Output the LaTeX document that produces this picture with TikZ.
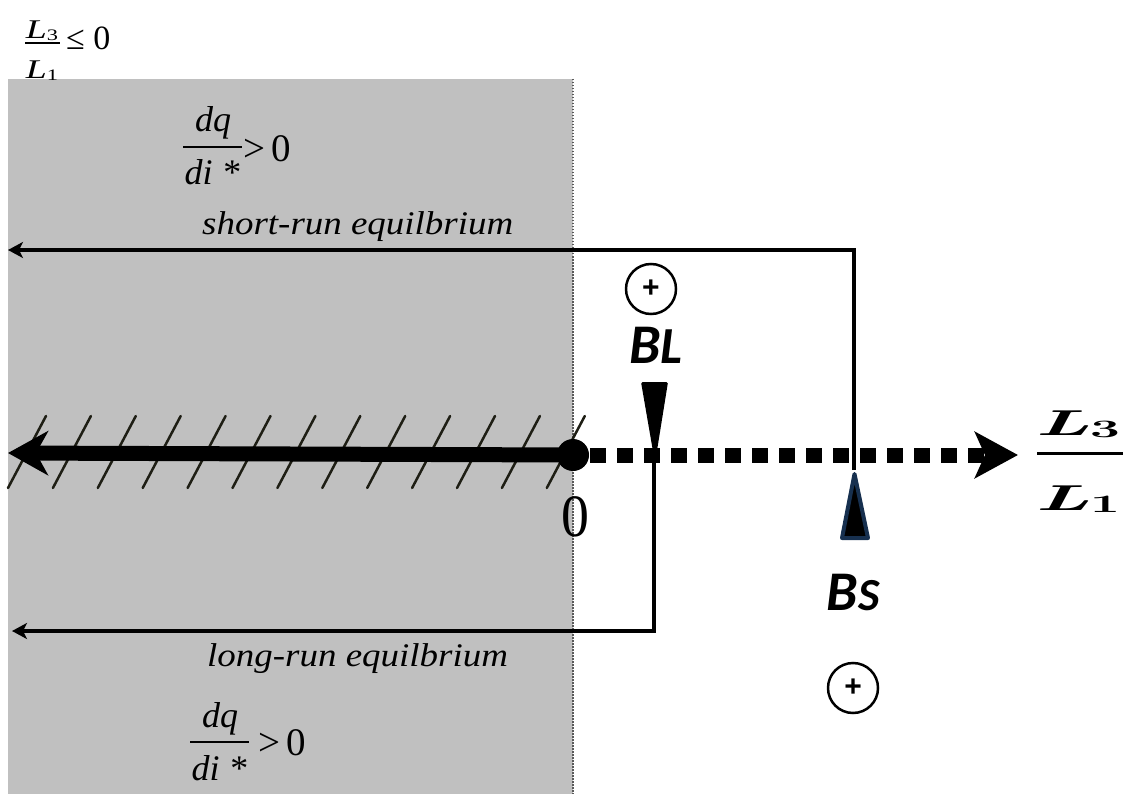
\documentclass[tikz,border=0pt]{standalone}
\usepackage{graphicx}
\usepackage{fontspec}
\setmainfont{Liberation Serif}
\newfontfamily\calibri{Carlito}
\newfontfamily\sansplus{Liberation Sans}
\newfontfamily\lmr{Latin Modern Roman}
\usetikzlibrary{arrows.meta}
\definecolor{greyfill}{HTML}{C0C0C0}
\definecolor{hatchc}{HTML}{1E1E14}
\definecolor{navy}{HTML}{17304F}
\definecolor{edgec}{HTML}{5A5A5A}
\tikzset{
  thinarrow/.style={line width=4.5pt,-{Stealth[length=15pt,width=16pt,inset=4pt]}},
  hatchline/.style={hatchc,line width=2.5pt,line cap=round},
  plusc/.style={circle,draw,line width=2.5pt,minimum size=50pt,inner sep=0pt,
    font=\sansplus\bfseries\fontsize{30}{30}\selectfont},
  lbl/.style={inner sep=0pt},
  dqfont/.style={lbl,font=\fontsize{36}{40}\selectfont\itshape},
  relfont/.style={lbl,font=\fontsize{39}{42}\selectfont},
  fracbar/.style={line width=1.8pt},
}
\begin{document}
\begin{tikzpicture}[x=1pt,y=-1pt]
\useasboundingbox (0,0) rectangle (1124,794);
% shaded half-plane
\fill[greyfill] (8,79) rectangle (573,794);
\draw[edgec,line width=2.5pt,dash pattern=on 1.5pt off 1.5pt] (573,79) -- (573,794);
% hatching
\foreach \i in {0,...,12} \draw[hatchline] ({8+44.9*\i},488) -- ++(38,-72);
% coordinates
\coordinate (O) at (573,455);
\coordinate (leftend) at (8,453);
\coordinate (dashstart) at (590,455);
\coordinate (rightend) at (1018,455);
\coordinate (srv) at (854,470);
\coordinate (srend) at (8,250);
\coordinate (blv) at (654,455);
\coordinate (lrend) at (12,631);
% thick axis
\draw[line width=15pt,-{Stealth[length=40pt,width=44pt,inset=12pt]}] (O) -- (leftend);
\draw[line width=15pt,dash pattern=on 16pt off 11pt,-{Stealth[length=43pt,width=46pt,inset=10pt]}] (dashstart) -- (rightend);
\fill (O) circle[radius=16pt];
% equilibrium paths
\draw[thinarrow] (srv) |- (srend);
\draw[thinarrow] (blv) |- (lrend);
% markers
\fill[rounded corners=1.5pt] (641,382) -- (668,382) -- (655,463) -- cycle;
\filldraw[fill=black,draw=navy,line width=4pt,line join=round] (854.5,474) -- (868,538) -- (842,538) -- cycle;
% circles
\node[plusc] (p1) at (651,289) {+};
\node[plusc] (p2) at (853,688) {+};
% B labels
\node[lbl,anchor=base] (bl) at (656,363) {\calibri\bfseries\itshape{\fontsize{56}{60}\selectfont B}{\fontsize{52}{56}\selectfont L}};
\node[lbl,anchor=base] (bs) at (853,610) {\calibri\bfseries\itshape{\fontsize{56}{60}\selectfont B}{\fontsize{46}{50}\selectfont S}};
% zero
\node[lbl] (zero) at (575,517) {\fontsize{60}{62}\selectfont\scalebox{0.93}[1]{0}};
% axis label
\node[lbl,anchor=base] (axnum) at (1078,435) {\lmr\bfseries\scalebox{2.15}[1]{{\fontsize{36}{40}\selectfont\itshape L}\raisebox{-0.2em}{\fontsize{25}{28}\selectfont 3}}};
\node[lbl,anchor=base] (axden) at (1078,510) {\lmr\bfseries\scalebox{2.15}[1]{{\fontsize{36}{40}\selectfont\itshape L}\raisebox{-0.2em}{\fontsize{25}{28}\selectfont 1}}};
\coordinate (axbl) at (1037,453);
\coordinate (axbr) at (1123,453);
\draw[line width=3pt] (axbl) -- (axbr);
% top-left label
\node[lbl,anchor=base] (tlnum) at (42,39) {\scalebox{1.4}[1]{{\fontsize{27}{28}\selectfont\itshape L}\raisebox{-0.2em}{\fontsize{16}{18}\selectfont 3}}};
\node[lbl,anchor=base] (tlden) at (42,79) {\scalebox{1.4}[1]{{\fontsize{27}{28}\selectfont\itshape L}\raisebox{-0.2em}{\fontsize{16}{18}\selectfont 1}}};
\coordinate (tlbl) at (25,43);
\coordinate (tlbr) at (60,43);
\draw[line width=1.5pt] (tlbl) -- (tlbr);
\node[lbl,anchor=base west,font=\fontsize{34}{36}\selectfont] (tlrel) at (66,50) {≤ 0};
% derivative labels (top)
\node[dqfont,anchor=base] (dqtn) at (213,132) {dq};
\node[dqfont,anchor=base] (dqtd) at (212,185) {di *};
\coordinate (dqtl) at (183,147);
\coordinate (dqtr) at (242,147);
\draw[fracbar] (dqtl) -- (dqtr);
\node[relfont,anchor=base west] (dqtrel) at (243,162) {>\,0};
% derivative labels (bottom)
\node[dqfont,anchor=base] (dqbn) at (220,727) {dq};
\node[dqfont,anchor=base] (dqbd) at (219,780) {di *};
\coordinate (dqbl) at (190,742);
\coordinate (dqbr) at (249,742);
\draw[fracbar] (dqbl) -- (dqbr);
\node[relfont,anchor=base west] (dqbrel) at (258,755) {>\,0};
% path labels
\node[lbl,anchor=base west] (srtext) at (202,235) {\fontsize{33}{36}\selectfont\scalebox{1.12}[1]{\itshape short-run equilbrium}};
\node[lbl,anchor=base west] (lrtext) at (207,666) {\fontsize{33}{36}\selectfont\scalebox{1.12}[1]{\itshape long-run equilbrium}};
\end{tikzpicture}
\end{document}
